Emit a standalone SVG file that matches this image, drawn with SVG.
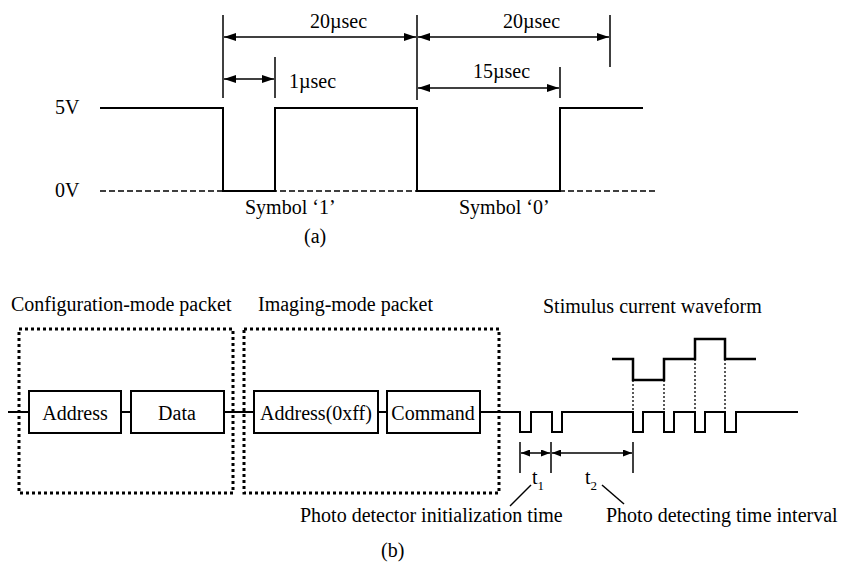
<svg xmlns="http://www.w3.org/2000/svg" width="843" height="566" viewBox="0 0 843 566">
  <style>
    text { font-family: "Liberation Serif", "Times New Roman", serif; font-size: 20px; fill: #000; }
    .w { fill: none; stroke: #000; stroke-width: 2; }
    .thin { fill: none; stroke: #000; stroke-width: 1.5; }
    .dash { fill: none; stroke: #000; stroke-width: 1.5; stroke-dasharray: 6 3; }
    .dots { fill: none; stroke: #000; stroke-width: 3; stroke-dasharray: 3 3; }
    .vdots { fill: none; stroke: #000; stroke-width: 1.3; stroke-dasharray: 2 2; }
    .box { fill: #fff; stroke: #000; stroke-width: 2; }
    .dim { fill: none; stroke: #000; stroke-width: 1.5; marker-start: url(#ah); marker-end: url(#ah); }
    .dims { fill: none; stroke: #000; stroke-width: 1.5; marker-start: url(#ahs); marker-end: url(#ahs); }
  </style>
  <defs>
    <marker id="ah" viewBox="0 0 12 8" refX="12" refY="4" markerWidth="12" markerHeight="8" markerUnits="userSpaceOnUse" orient="auto-start-reverse">
      <path d="M0,0 L12,4 L0,8 Z" fill="#000"/>
    </marker>
    <marker id="ahs" viewBox="0 0 9 7" refX="9" refY="3.5" markerWidth="9" markerHeight="7" markerUnits="userSpaceOnUse" orient="auto-start-reverse">
      <path d="M0,0 L9,3.5 L0,7 Z" fill="#000"/>
    </marker>
  </defs>

  <!-- (a) symbol timing -->
  <g id="timing-a">
    <text x="55" y="114">5V</text>
    <text x="55" y="197">0V</text>
    <line class="dash" x1="100" y1="191" x2="655" y2="191"/>
    <path class="w" d="M100,108 H223 V191 H275 V108 H417 V191 H560 V108 H643"/>
    <!-- extension lines -->
    <line class="thin" x1="223" y1="15" x2="223" y2="98"/>
    <line class="thin" x1="417" y1="15" x2="417" y2="100"/>
    <line class="thin" x1="275" y1="57" x2="275" y2="98"/>
    <line class="thin" x1="610" y1="15" x2="610" y2="67"/>
    <line class="thin" x1="560" y1="67" x2="560" y2="98"/>
    <!-- dimensions -->
    <line class="dim" x1="224" y1="37" x2="416" y2="37"/>
    <line class="dim" x1="418" y1="37" x2="609" y2="37"/>
    <line class="dim" x1="224" y1="79" x2="274" y2="79"/>
    <line class="dim" x1="418" y1="88" x2="559" y2="88"/>
    <text x="310" y="28">20µsec</text>
    <text x="503" y="28">20µsec</text>
    <text x="289" y="88">1µsec</text>
    <text x="473" y="78">15µsec</text>
    <text x="245" y="214">Symbol ‘1’</text>
    <text x="459" y="214">Symbol ‘0’</text>
    <text x="304" y="243">(a)</text>
  </g>

  <!-- (b) packet sequence -->
  <text x="11" y="311">Configuration-mode packet</text>
  <text x="258" y="311">Imaging-mode packet</text>
  <text x="543" y="313">Stimulus current waveform</text>

  <g id="connectors">
    <line class="w" x1="8" y1="412" x2="29" y2="412"/>
    <line class="w" x1="121" y1="412" x2="131" y2="412"/>
    <line class="w" x1="224" y1="412" x2="254" y2="412"/>
    <line class="w" x1="378" y1="412" x2="387" y2="412"/>
  </g>

  <g id="config-packet">
    <rect class="dots" x="19" y="329" width="214" height="164"/>
  </g>
  <g id="imaging-packet">
    <rect class="dots" x="244" y="329" width="255" height="164"/>
  </g>

  <g id="address">
    <rect class="box" x="29" y="391" width="92" height="42"/>
    <text x="75" y="420" text-anchor="middle">Address</text>
  </g>
  <g id="data">
    <rect class="box" x="131" y="391" width="93" height="42"/>
    <text x="177" y="420" text-anchor="middle">Data</text>
  </g>
  <g id="address-0xff">
    <rect class="box" x="254" y="391" width="124" height="42"/>
    <text x="316" y="420" text-anchor="middle">Address(0xff)</text>
  </g>
  <g id="command">
    <rect class="box" x="387" y="391" width="93" height="42"/>
    <text x="433" y="420" text-anchor="middle">Command</text>
  </g>

  <!-- photo detector pulse train -->
  <path class="w" d="M480,412 H520 V432 H531 V412 H552 V432 H562 V412 H633 V432 H643 V412 H664 V432 H674 V412 H695 V432 H705 V412 H725 V432 H736 V412 H798"/>
  <!-- stimulus current waveform -->
  <path class="w" d="M612,359 H633 V380 H664 V359 H695 V339 H725 V359 H756" style="stroke-width:2.5"/>
  <line class="vdots" x1="633" y1="380" x2="633" y2="412"/>
  <line class="vdots" x1="664" y1="380" x2="664" y2="412"/>
  <line class="vdots" x1="695" y1="359" x2="695" y2="412"/>
  <line class="vdots" x1="725" y1="359" x2="725" y2="412"/>

  <!-- t1 / t2 intervals -->
  <line class="thin" x1="520" y1="442" x2="520" y2="473"/>
  <line class="thin" x1="551" y1="442" x2="551" y2="473"/>
  <line class="thin" x1="633" y1="442" x2="633" y2="473"/>
  <line class="dims" x1="521" y1="453" x2="550" y2="453"/>
  <line class="dims" x1="552" y1="453" x2="632" y2="453"/>
  <text x="532" y="484">t<tspan font-size="13" dy="6">1</tspan></text>
  <text x="585" y="484">t<tspan font-size="13" dy="6">2</tspan></text>
  <line class="thin" x1="531" y1="485" x2="510" y2="506"/>
  <line class="thin" x1="602" y1="485" x2="624" y2="504"/>
  <text x="300" y="522">Photo detector initialization time</text>
  <text x="606" y="522">Photo detecting time interval</text>
  <text x="381" y="557">(b)</text>
</svg>
